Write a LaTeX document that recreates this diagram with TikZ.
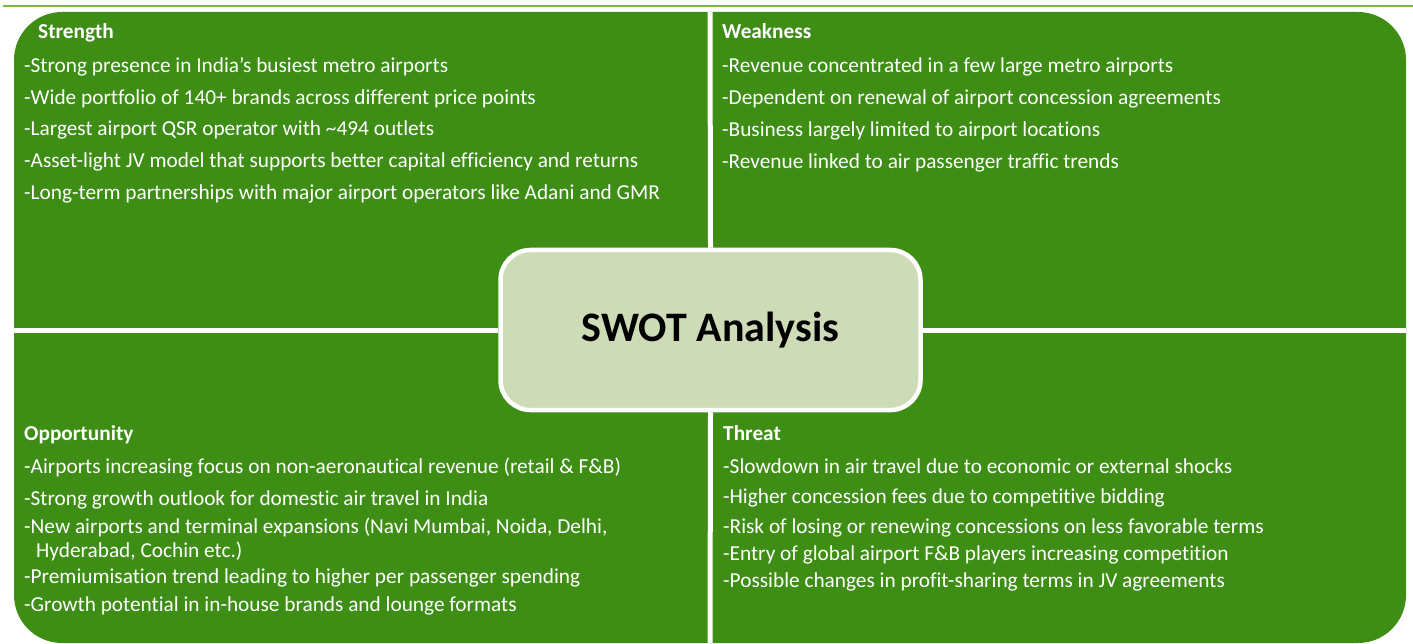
\documentclass[tikz,border=0pt]{standalone}
\usepackage{fontspec}
\setmainfont{Carlito}[Ligatures={NoCommon}]
\usetikzlibrary{positioning}
\usetikzlibrary{calc}
\definecolor{swotgreen}{RGB}{62,142,22}
\definecolor{swotpale}{RGB}{205,219,182}
\definecolor{ruleline}{RGB}{122,182,72}

\begin{document}
\begin{tikzpicture}[x=1pt, y=-1pt,
    item/.style={anchor=base west, inner sep=0pt, text=white, font=\fontsize{21.3}{25}\selectfont},
    head/.style={item, font=\fontsize{21.3}{25}\selectfont\bfseries},
    gap/.style={white, line width=5pt}]
    \useasboundingbox (0,0) rectangle (1413,644);
    \draw[ruleline, line width=1.2pt] (3,6) -- (1413,6);

    \node[fill=swotgreen, rounded corners=48pt, minimum width=1392pt, minimum height=631pt, inner sep=0pt] (board) at (710,327.5) {};
    \node[fill=swotpale, draw=white, line width=4.5pt, rounded corners=30pt, minimum width=420pt, minimum height=160pt,
          font=\fontsize{42}{50}\selectfont\bfseries] (swot) at (710.5,330) {SWOT Analysis};
    \draw[gap] (board.north) -- (swot.north);
    \draw[gap] (swot.south) -- (board.south);
    \draw[gap] (board.west |- swot.center) -- (swot.west);
    \draw[gap] (swot.east) -- (board.east |- swot.center);

    \node[head] (shead) at (38,39) {Strength};
    \node[item] (s1) at (24,73) {-Strong presence in India’s busiest metro airports};
    \node[item] (s2) at (24,105) {-Wide portfolio of 140+ brands across different price points};
    \node[item] (s3) at (24,136) {-Largest airport QSR operator with \textasciitilde494 outlets};
    \node[item] (s4) at (24,168) {-Asset-light JV model that supports better capital efficiency and returns};
    \node[item] (s5) at (24,200) {-Long-term partnerships with major airport operators like Adani and GMR};

    \node[head] (whead) at (722,39) {Weakness};
    \node[item] (w1) at (722,73) {-Revenue concentrated in a few large metro airports};
    \node[item] (w2) at (722,105) {-Dependent on renewal of airport concession agreements};
    \node[item] (w3) at (722,137) {-Business largely limited to airport locations};
    \node[item] (w4) at (722,169) {-Revenue linked to air passenger traffic trends};

    \node[head] (ohead) at (24,440) {Opportunity};
    \node[item] (o1) at (24,473) {-Airports increasing focus on non-aeronautical revenue (retail \& F\&B)};
    \node[item] (o2) at (24,505) {-Strong growth outlook for domestic air travel in India};
    \node[item] (o3) at (24,533) {-New airports and terminal expansions (Navi Mumbai, Noida, Delhi,};
    \node[item] (o3b) at (36,557) {Hyderabad, Cochin etc.)};
    \node[item] (o4) at (24,583) {-Premiumisation trend leading to higher per passenger spending};
    \node[item] (o5) at (24,611) {-Growth potential in in-house brands and lounge formats};

    \node[head] (thead) at (723,440) {Threat};
    \node[item] (t1) at (723,473) {-Slowdown in air travel due to economic or external shocks};
    \node[item] (t2) at (723,503) {-Higher concession fees due to competitive bidding};
    \node[item] (t3) at (723,533) {-Risk of losing or renewing concessions on less favorable terms};
    \node[item] (t4) at (723,560) {-Entry of global airport F\&B players increasing competition};
    \node[item] (t5) at (723,587) {-Possible changes in profit-sharing terms in JV agreements};
\end{tikzpicture}
\end{document}
